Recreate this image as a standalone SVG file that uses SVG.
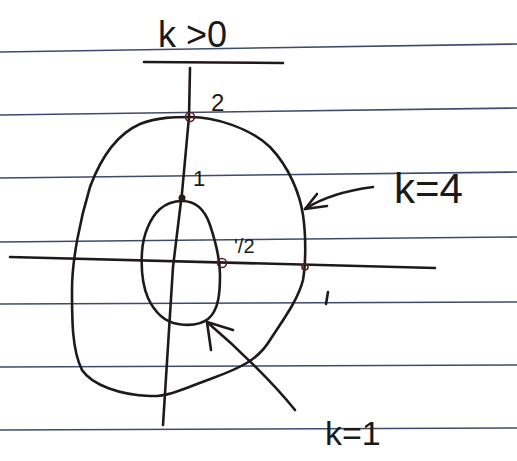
<svg xmlns="http://www.w3.org/2000/svg" width="517" height="461" viewBox="0 0 517 461">
<style>
.rule{stroke:#3e4a70;stroke-width:1.6;fill:none}
.ink{stroke:#1f1a1a;stroke-width:2.6;fill:none;stroke-linecap:round;stroke-linejoin:round}
.pt{stroke:#5a2020;stroke-width:1.6;fill:none}
.lbl{font-family:"Liberation Sans",Arial,sans-serif;fill:#1a1a1a}
</style>
<rect width="517" height="461" fill="#ffffff"/>
<g id="paper-lines">
<line class="rule" x1="0" y1="52" x2="517" y2="44"/>
<line class="rule" x1="0" y1="115" x2="517" y2="108"/>
<line class="rule" x1="0" y1="178" x2="517" y2="172"/>
<line class="rule" x1="0" y1="242" x2="517" y2="237"/>
<line class="rule" x1="0" y1="304" x2="517" y2="302"/>
<line class="rule" x1="0" y1="367" x2="517" y2="365"/>
<line class="rule" x1="0" y1="430" x2="517" y2="428"/>
</g>
<g id="title">
<text class="lbl" x="158" y="47" font-size="36">k &gt;0</text>
<line class="ink" x1="144" y1="62" x2="283" y2="63"/>
</g>
<g id="axes">
<path class="ink" d="M190,68 L189,117 L182,193 L173,267 L163,425"/>
<path class="ink" d="M10,257 L435,268"/>
</g>
<g id="curve-k4">
<path class="ink" d="M190,117 C215,117 250,128 270,147 C290,168 300,195 303,215 C306,235 306,262 303,280 C298,300 283,320 270,340 C258,360 240,368 213,378 C190,386 170,397 150,396 C120,395 92,385 82,370 C72,350 72,320 72,290 C72,260 80,220 90,187 C100,160 115,135 140,124 C158,117 175,117 190,117 Z"/>
</g>
<g id="curve-k1">
<path class="ink" d="M182,201 C196,201 205,210 210,225 C216,243 220,258 220,275 C220,292 219,310 208,319 C200,325 190,326 178,324 C165,322 155,313 148,298 C142,284 141,268 142,252 C143,235 150,218 160,209 C167,203 174,201 182,201 Z"/>
</g>
<g id="points">
<circle class="pt" cx="190" cy="117" r="4.5"/>
<circle cx="182" cy="198" r="3.5" fill="#2a1a1a"/>
<circle class="pt" cx="222" cy="263" r="4.5"/>
<circle class="pt" cx="305" cy="267" r="3"/>
</g>
<g id="labels">
<text class="lbl" x="211" y="111" font-size="24">2</text>
<text class="lbl" x="193" y="186" font-size="22">1</text>
<text class="lbl" x="234" y="253" font-size="20">'/2</text>
<line class="ink" x1="328" y1="292" x2="326" y2="304"/>
<text class="lbl" x="394" y="203" font-size="42">k=4</text>
<text class="lbl" x="325" y="445" font-size="34">k=1</text>
</g>
<g id="connectors">
<path class="ink" d="M373,187 C350,190 325,196 305,209"/>
<path class="ink" d="M317,194 L305,209 L327,206"/>
<path class="ink" d="M295,410 C275,385 240,350 207,322"/>
<path class="ink" d="M233,330 L207,322 L211,350"/>
</g>
</svg>
